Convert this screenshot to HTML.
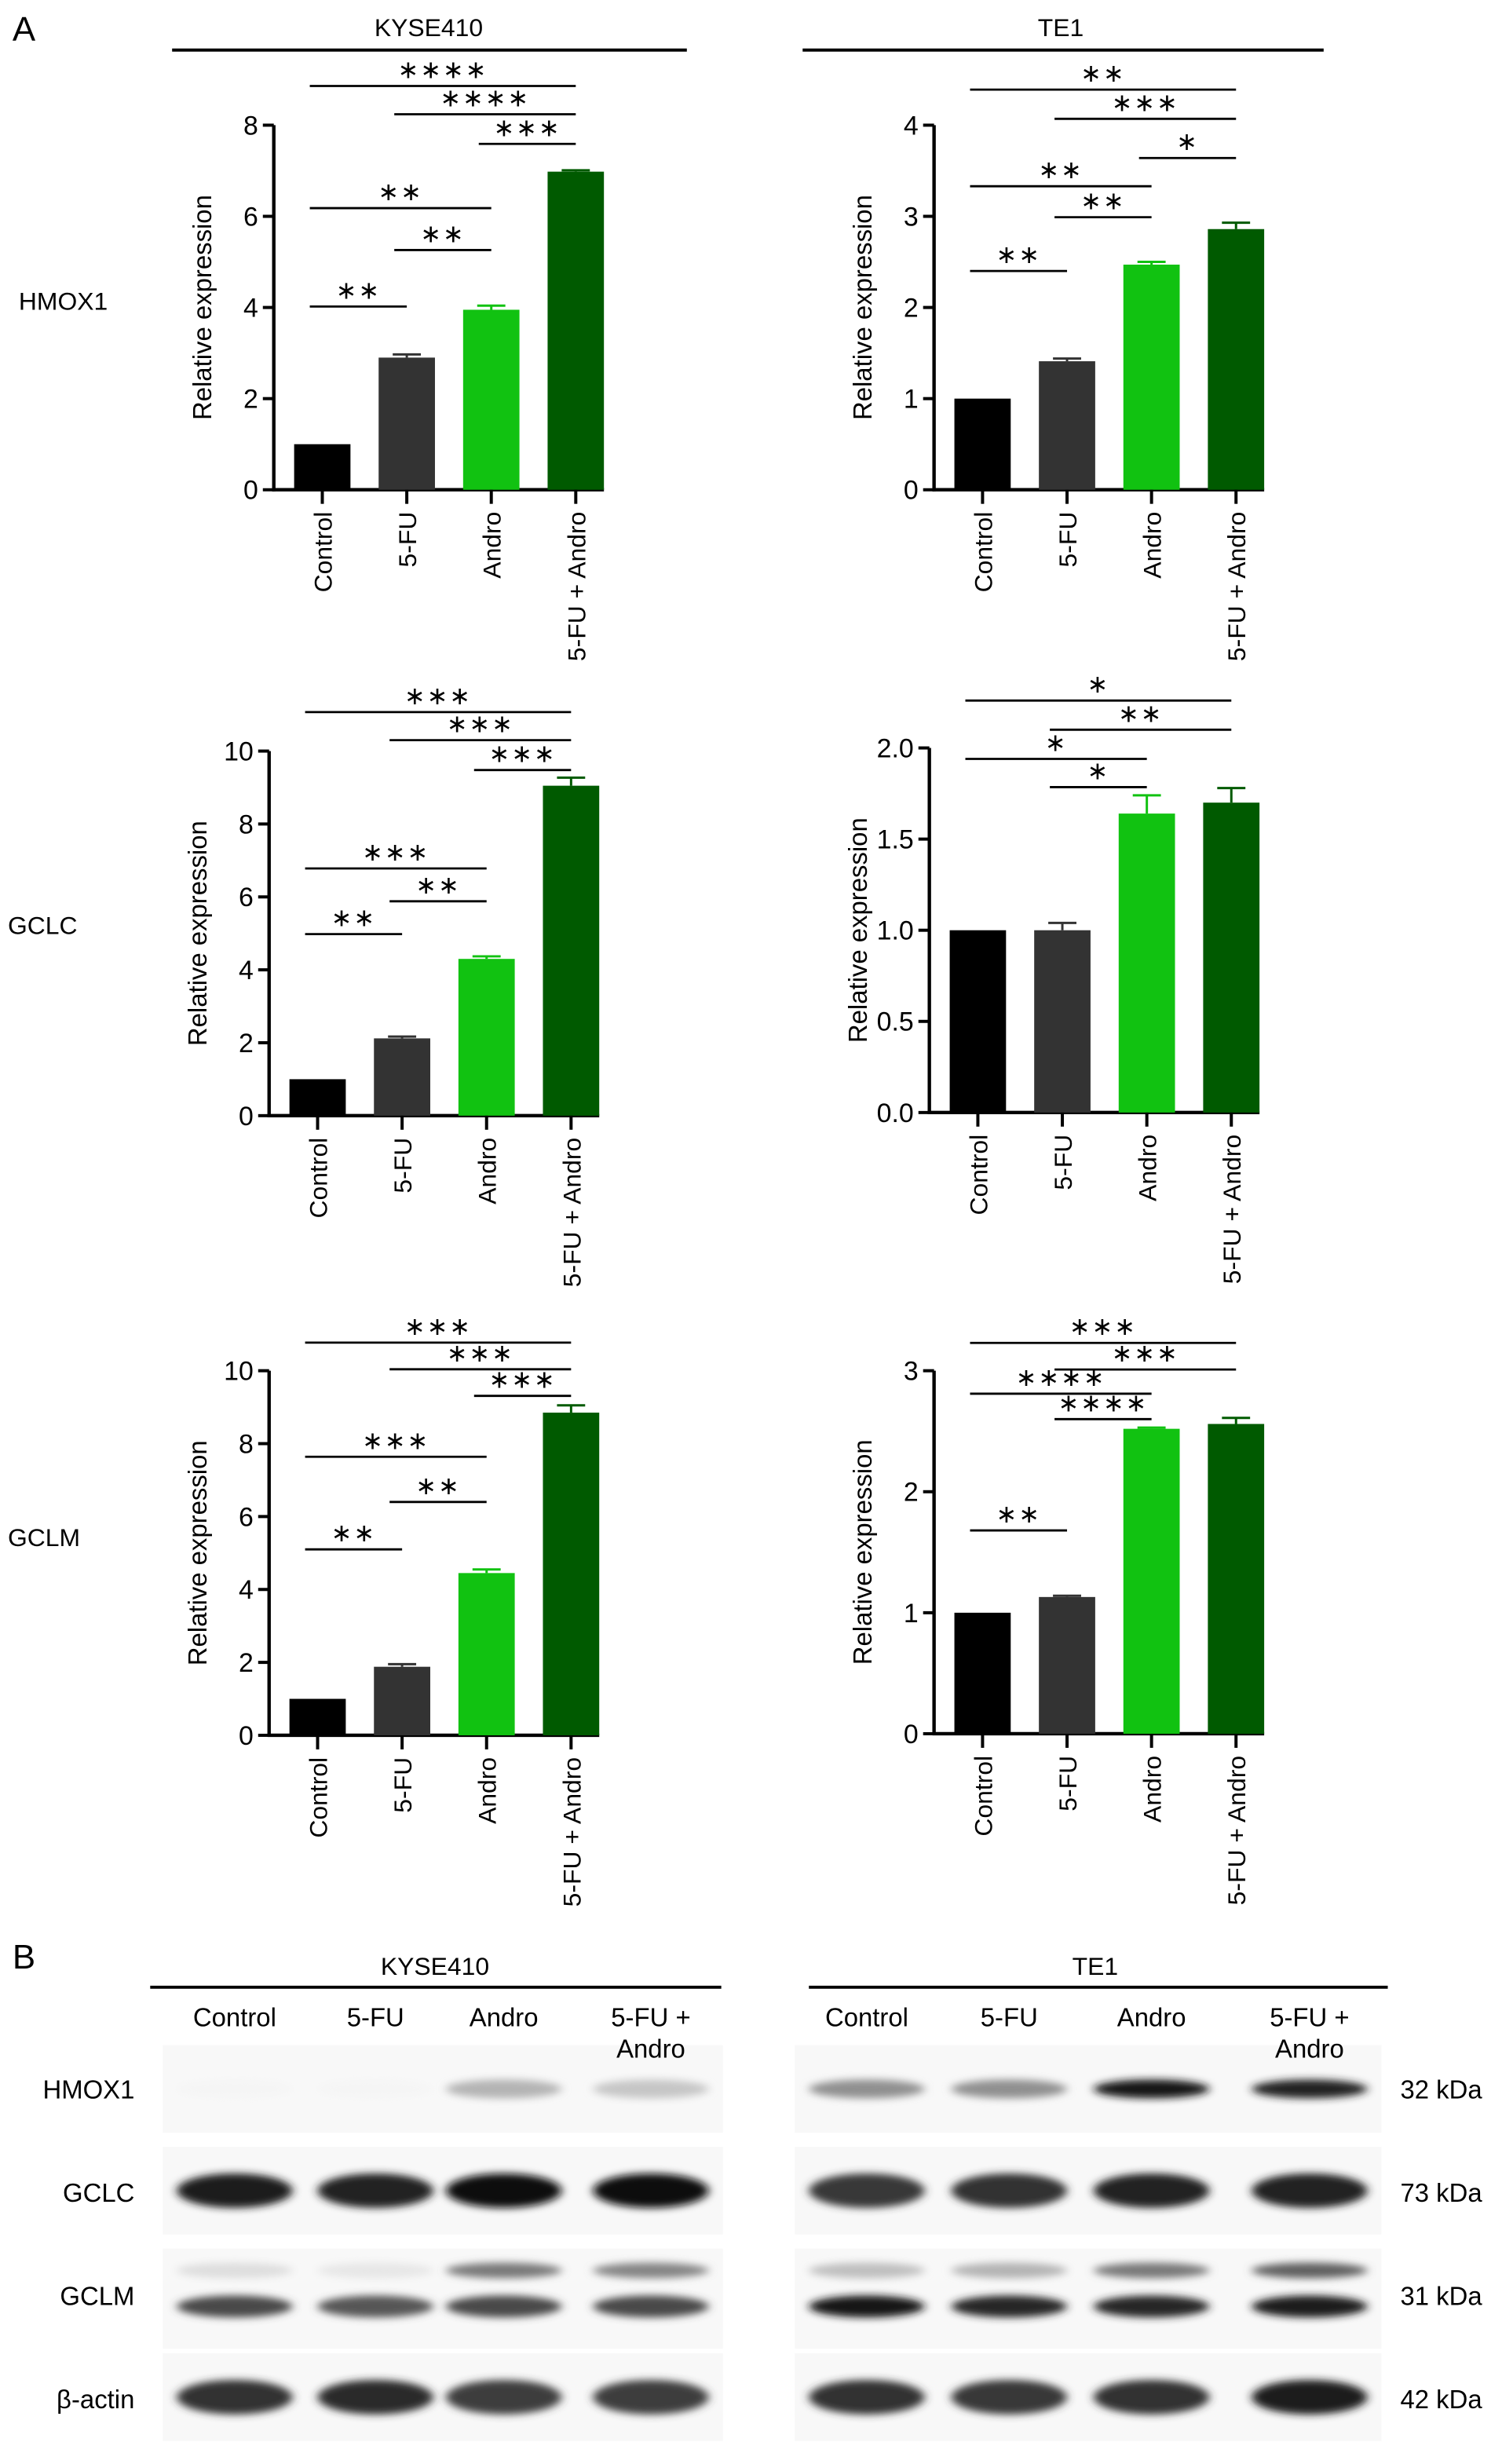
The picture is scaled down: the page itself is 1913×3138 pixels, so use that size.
<!DOCTYPE html>
<html><head><meta charset="utf-8"><style>
html,body{margin:0;padding:0;background:#fff;}
svg{display:block;font-family:"Liberation Sans",Arial,sans-serif;}
</style></head><body>
<svg id="fig" width="1913" height="3138" viewBox="0 0 960 1574.7" preserveAspectRatio="none" xmlns="http://www.w3.org/2000/svg">
<defs>
<filter id="blur" x="-20%" y="-100%" width="140%" height="300%"><feGaussianBlur stdDeviation="3 2.4"/></filter>
</defs>
<text x="8" y="26" font-size="22">A</text>
<text x="274" y="23" font-size="16" text-anchor="middle">KYSE410</text>
<line x1="110" y1="32" x2="439" y2="32" stroke="#000" stroke-width="2"/>
<text x="678" y="23" font-size="16" text-anchor="middle">TE1</text>
<line x1="513" y1="32" x2="846" y2="32" stroke="#000" stroke-width="2"/>
<text x="12" y="198" font-size="16">HMOX1</text>
<text x="5" y="597" font-size="16">GCLC</text>
<text x="5" y="988" font-size="16">GCLM</text>
<g id="charts"></g>
<text x="8" y="1258" font-size="22">B</text>
<text x="278" y="1262" font-size="16" text-anchor="middle">KYSE410</text>
<line x1="96" y1="1270" x2="461" y2="1270" stroke="#000" stroke-width="2"/>
<text x="700" y="1262" font-size="16" text-anchor="middle">TE1</text>
<line x1="517" y1="1270" x2="887" y2="1270" stroke="#000" stroke-width="2"/>
<g id="blots"></g>
</svg>
<script>
const NS="http://www.w3.org/2000/svg";
const categories=["Control","5-FU","Andro","5-FU + Andro"];
const colors=["#000000","#333333","#11c211","#005a00"];
const kyseHmox1=[1,2.9,3.95,6.98], kyseHmox1Err=[0,0.07,0.09,0.03];
const te1Hmox1=[1,1.41,2.47,2.86], te1Hmox1Err=[0,0.03,0.03,0.07];
const kyseGclc=[1,2.12,4.3,9.05], kyseGclcErr=[0,0.05,0.07,0.22];
const te1Gclc=[1,1.0,1.64,1.70], te1GclcErr=[0,0.04,0.1,0.08];
const kyseGclm=[1,1.88,4.45,8.85], kyseGclmErr=[0,0.07,0.1,0.2];
const te1Gclm=[1,1.13,2.52,2.56], te1GclmErr=[0,0.01,0.01,0.05];
const ticksH1=["0","2","4","6","8"], ticksT1=["0","1","2","3","4"];
const ticksG10=["0","2","4","6","8","10"], ticksT2=["0.0","0.5","1.0","1.5","2.0"], ticksT3=["0","1","2","3"];
const sigKH=[[0,1,"**",4.02],[1,2,"**",5.26],[0,2,"**",6.18],[2,3,"***",7.59],[1,3,"****",8.24],[0,3,"****",8.86]];
const sigTH=[[0,1,"**",2.40],[1,2,"**",2.99],[0,2,"**",3.33],[2,3,"*",3.64],[1,3,"***",4.07],[0,3,"**",4.39]];
const sigKC=[[0,1,"**",4.98],[1,2,"**",5.88],[0,2,"***",6.78],[2,3,"***",9.48],[1,3,"***",10.3],[0,3,"***",11.07]];
const sigTC=[[1,2,"*",1.785],[0,2,"*",1.94],[1,3,"**",2.10],[0,3,"*",2.26]];
const sigKM=[[0,1,"**",5.1],[1,2,"**",6.4],[0,2,"***",7.64],[2,3,"***",9.31],[1,3,"***",10.04],[0,3,"***",10.77]];
const sigTM=[[0,1,"**",1.68],[1,2,"****",2.60],[0,2,"****",2.81],[1,3,"***",3.01],[0,3,"***",3.23]];

function mk(tag,attrs,parent){const e=document.createElementNS(NS,tag);for(const k in attrs)e.setAttribute(k,attrs[k]);parent.appendChild(e);return e;}
const charts=document.getElementById('charts');
function chart(name,ax,y0,ytop,ticks,vals,errs,sigs){
  const g=mk('g',{},charts);
  
  
  const ymax=parseFloat(ticks[ticks.length-1]);
  const ys=v=>y0-(v/ymax)*(y0-ytop);
  const xs=i=>ax+31+i*54;
  const yl=mk('line',{x1:ax,y1:ytop,x2:ax,y2:y0+1,stroke:'#000','stroke-width':2.2},g);
  
  
  const xl=mk('line',{x1:ax-1,y1:y0,x2:ax+211,y2:y0,stroke:'#000','stroke-width':2.2},g);
  
  
  ticks.forEach(t=>{const v=parseFloat(t);const y=ys(v);
    mk('line',{x1:ax-7,y1:y,x2:ax,y2:y,stroke:'#000','stroke-width':2},g);
    const tx=mk('text',{x:ax-10,y:y+6,'font-size':17,'text-anchor':'end'},g);tx.textContent=t;
    
    
  });
  const mid=(y0+ytop)/2;
  const at=mk('text',{x:0,y:0,'font-size':16.5,'text-anchor':'middle',transform:`translate(${ax-40},${mid}) rotate(-90)`},g);
  at.textContent='Relative expression';
  
  
  vals.forEach((v,i)=>{const x=xs(i);
    const b=mk('rect',{x:x-18,y:ys(v),width:36,height:y0-ys(v),fill:colors[i]},g);
    
    
    if(errs[i]>0){const ye=ys(v+errs[i]);
      mk('line',{x1:x,y1:ye,x2:x,y2:ys(v),stroke:colors[i],'stroke-width':1.5},g);
      const eb=mk('line',{x1:x-9,y1:ye,x2:x+9,y2:ye,stroke:colors[i],'stroke-width':1.5},g);
      
      }
    mk('line',{x1:x,y1:y0,x2:x,y2:y0+9,stroke:'#000','stroke-width':2},g);
    const lt=mk('text',{x:0,y:0,'font-size':16,'text-anchor':'end',transform:`translate(${x+6},${y0+14}) rotate(-90)`},g);
    lt.textContent=categories[i];
    
    
  });
  sigs.forEach(s=>{const y=ys(s[3]);const x1=xs(s[0])-8,x2=xs(s[1]);
    const l=mk('line',{x1:x1,y1:y,x2:x2,y2:y,stroke:'#000','stroke-width':1.4},g);
    
    
    const st=mk('text',{x:(x1+x2)/2,y:y-5,'font-size':16,'text-anchor':'middle','letter-spacing':'1'},g);
    st.textContent=s[2].replace(/\*/g,'∗');
    
    
  });
}
chart('kyse410-hmox1',175,313,80,ticksH1,kyseHmox1,kyseHmox1Err,sigKH);
chart('te1-hmox1',597,313,80,ticksT1,te1Hmox1,te1Hmox1Err,sigTH);
chart('kyse410-gclc',172,713,480,ticksG10,kyseGclc,kyseGclcErr,sigKC);
chart('te1-gclc',594,711,478,ticksT2,te1Gclc,te1GclcErr,sigTC);
chart('kyse410-gclm',172,1109,876,ticksG10,kyseGclm,kyseGclmErr,sigKM);
chart('te1-gclm',597,1108,876,ticksT3,te1Gclm,te1GclmErr,sigTM);

const blots=document.getElementById('blots');
const laneLabels=["Control","5-FU","Andro","5-FU +"];
const proteins=["HMOX1","GCLC","GCLM","β-actin"];
const kda=["32 kDa","73 kDa","31 kDa","42 kDa"];
const kyseBands=[[0.02,0.02,0.3,0.22],[0.95,0.92,1,1],[0.12,0.08,0.55,0.5],[0.85,0.88,0.8,0.8]];
const kyseLower=[0.75,0.7,0.75,0.75];
const te1Bands=[[0.45,0.45,0.98,0.92],[0.82,0.85,0.92,0.92],[0.25,0.3,0.55,0.65],[0.85,0.82,0.85,0.95]];
const te1Lower=[0.98,0.9,0.9,0.95];
function blotSet(name,lanes,bands,lower){
  const g=mk('g',{},blots);
  
  
  const rowsY=[1335,1400,1451,1532];
  rowsY.forEach((ry,r)=>{
    mk('rect',{x:lanes[0]-46,y:(r==2?1437:ry-28),width:lanes[3]-lanes[0]+92,height:(r==2?64:56),fill:'#f8f8f8'},g);
  });
  lanes.forEach((lx,i)=>{
    bands.forEach((row,r)=>{
      const v=row[i];const c=Math.round(15+(1-v)*235);
      const e=mk('ellipse',{cx:lx,cy:rowsY[r],rx:37,ry:r==0?6:(r==2?5:11),fill:`rgb(${c},${c},${c})`,filter:'url(#blur)'},g);
      
      
    });
    const c=Math.round(15+(1-lower[i])*235);
    const e2=mk('ellipse',{cx:lx,cy:1474,rx:37,ry:7,fill:`rgb(${c},${c},${c})`,filter:'url(#blur)'},g);
    
    
    const t=mk('text',{x:lx,y:1295,'font-size':16.5,'text-anchor':'middle'},g);t.textContent=laneLabels[i];
    
    
    if(i==3){const t2=mk('text',{x:lx,y:1315,'font-size':16.5,'text-anchor':'middle'},g);t2.textContent='Andro';
      
      }
  });
}
blotSet('kyse410',[150,240,322,416],kyseBands,kyseLower);
blotSet('te1',[554,645,736,837],te1Bands,te1Lower);
const rowLabelY=[1341,1407,1473,1539];
proteins.forEach((p,r)=>{
  const t=mk('text',{x:86,y:rowLabelY[r],'font-size':16.5,'text-anchor':'end'},blots);t.textContent=p;
  
  
  const k=mk('text',{x:895,y:rowLabelY[r],'font-size':16.5},blots);k.textContent=kda[r];
  
  
});
</script>
</body></html>
